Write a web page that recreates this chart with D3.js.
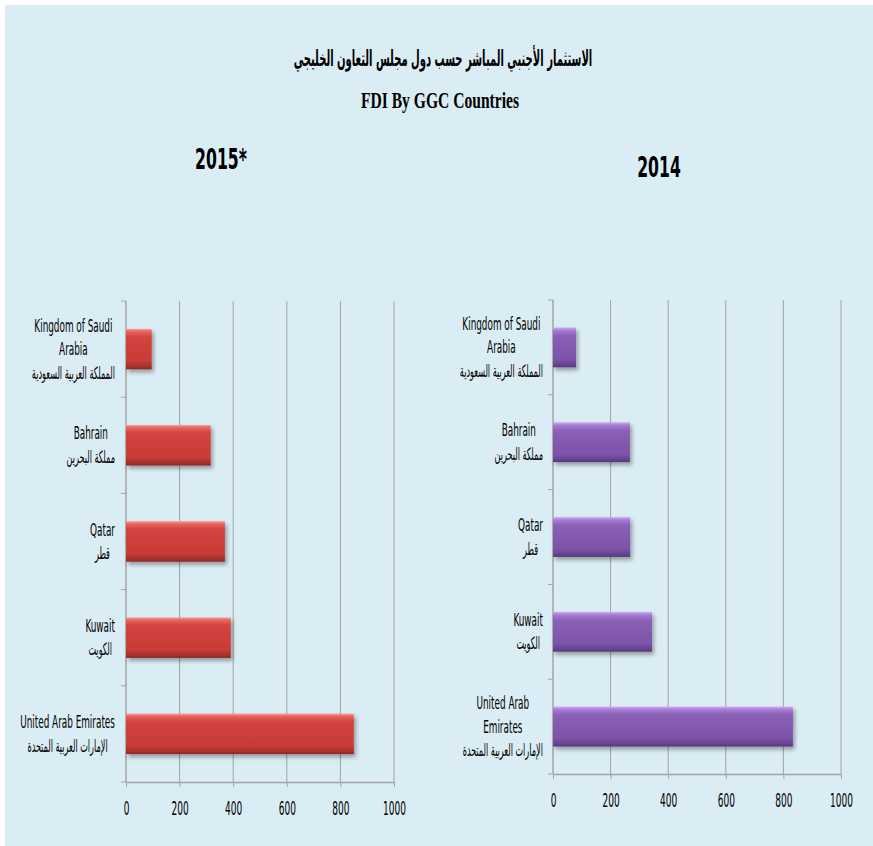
<!DOCTYPE html>
<html>
<head>
<meta charset="utf-8">
<script src="https://cdn.jsdelivr.net/npm/d3@7"></script>
<style>
  html, body { margin: 0; padding: 0; background: #ffffff; }
  svg { display: block; }
</style>
</head>
<body>
<svg id="chart" width="873" height="846"></svg>
<script>
// ---------------- DATA ----------------
const titleAr = "الاستثمار الأجنبي المباشر حسب دول مجلس التعاون الخليجي";
const titleEn = "FDI By GGC Countries";
const categories = ["Kingdom of Saudi Arabia", "Bahrain", "Qatar", "Kuwait", "United Arab Emirates"];
const categoriesAr = ["المملكة العربية السعودية", "مملكة البحرين", "قطر", "الكويت", "الإمارات العربية المتحدة"];
const labels2015 = [["Kingdom of Saudi", "Arabia"], ["Bahrain"], ["Qatar"], ["Kuwait"], ["United Arab Emirates"]];
const labels2014 = [["Kingdom of Saudi", "Arabia"], ["Bahrain"], ["Qatar"], ["Kuwait"], ["United Arab", "Emirates"]];
const values2015 = [96, 316, 369, 391, 850];
const values2014 = [80, 267, 268, 344, 833];
const tickValues = [0, 200, 400, 600, 800, 1000];
const panelTitles = ["2015*", "2014"];

// ---------------- SETUP ----------------
const svg = d3.select("#chart");
const defs = svg.append("defs");

svg.append("rect").attr("x", 5).attr("y", 5).attr("width", 868).attr("height", 841).attr("fill", "#dbedf4");

function grad(id, stops) {
  const g = defs.append("linearGradient").attr("id", id).attr("x1", 0).attr("y1", 0).attr("x2", 0).attr("y2", 1);
  stops.forEach(s => g.append("stop").attr("offset", s[0]).attr("stop-color", s[1]));
}
grad("gRed", [[0, "#f29a94"], [0.07, "#e7625d"], [0.2, "#d4443f"], [0.8, "#c73b37"], [0.93, "#a8302d"], [1, "#8a2725"]]);
grad("gPur", [[0, "#cfa9f5"], [0.08, "#a37bd2"], [0.22, "#8a5fb6"], [0.8, "#7c53a8"], [0.93, "#664491"], [1, "#553879"]]);
const f = defs.append("filter").attr("id", "shadow").attr("x", "-10%").attr("y", "-20%").attr("width", "130%").attr("height", "160%");
f.append("feDropShadow").attr("dx", 2).attr("dy", 3).attr("stdDeviation", 2).attr("flood-color", "#000").attr("flood-opacity", 0.35);

// horizontal condensing around the text's anchor x
function squeeze(sel, k) {
  sel.each(function () {
    const t = d3.select(this);
    const x = +t.attr("x") || 0;
    t.attr("transform", `translate(${x},0) scale(${k},1) translate(${-x},0)`);
    this.__w = this.getComputedTextLength() * k;
  });
}

const condFont = "'Liberation Sans Narrow', 'DejaVu Sans Condensed', 'DejaVu Sans', sans-serif";

// ---------------- TITLES ----------------
const t1 = svg.append("text").attr("x", 443).attr("y", 66).attr("text-anchor", "middle")
  .attr("font-family", "'DejaVu Sans', sans-serif").attr("font-weight", "bold").attr("font-size", 22)
  .attr("fill", "#000").text(titleAr);
const t2 = svg.append("text").attr("x", 440).attr("y", 108).attr("text-anchor", "middle")
  .attr("font-family", "'Liberation Serif', 'Times New Roman', serif").attr("font-weight", "bold").attr("font-size", 24)
  .attr("fill", "#000").text(titleEn);

// ---------------- PANELS ----------------
const panels = [
  { values: values2015, labels: labels2015, fill: "url(#gRed)", x0: 126, x1: 394, y0: 301, y1: 782, labelRight: 115, tickY: 808, title: panelTitles[0], tx: 221, ty: 169 },
  { values: values2014, labels: labels2014, fill: "url(#gPur)", x0: 553, x1: 841, y0: 300, y1: 774, labelRight: 543, tickY: 800, title: panelTitles[1], tx: 659, ty: 177 }
];

panels.forEach(p => {
  const g = svg.append("g");
  const x = d3.scaleLinear().domain([0, 1000]).range([p.x0, p.x1]);
  const y = d3.scaleBand().domain(categories).range([p.y0, p.y1]).paddingInner(0.58).paddingOuter(0.29);
  const yStep = (p.y1 - p.y0) / categories.length;

  // panel title
  const pt = g.append("text").attr("x", p.tx).attr("y", p.ty).attr("text-anchor", "middle")
    .attr("font-family", "'DejaVu Sans Condensed', 'DejaVu Sans', sans-serif").attr("font-weight", "bold")
    .attr("font-size", 29).attr("fill", "#000").text(p.title);

  // gridlines
  g.append("g").selectAll("line").data(tickValues.slice(1)).join("line")
    .attr("x1", d => x(d)).attr("x2", d => x(d)).attr("y1", p.y0).attr("y2", p.y1)
    .attr("stroke", "#a3a3a3").attr("stroke-width", 1);

  // bottom axis
  const xAxis = d3.axisBottom(x).tickValues(tickValues).tickSize(5).tickSizeOuter(0).tickFormat(d3.format("d"));
  const ax = g.append("g").attr("transform", `translate(0,${p.y1})`).call(xAxis);
  ax.select(".domain").attr("stroke", "#a3a3a3").attr("stroke-width", 1.5);
  ax.selectAll(".tick line").attr("stroke", "#a3a3a3");
  ax.selectAll(".tick text").attr("y", p.tickY - p.y1).attr("dy", "0.35em")
    .attr("font-family", condFont).attr("font-size", 20).attr("fill", "#000");

  // left axis with boundary ticks
  g.append("line").attr("x1", p.x0).attr("x2", p.x0).attr("y1", p.y0).attr("y2", p.y1)
    .attr("stroke", "#a3a3a3").attr("stroke-width", 1.5);
  g.append("g").selectAll("line").data(d3.range(categories.length + 1)).join("line")
    .attr("x1", p.x0 - 5).attr("x2", p.x0).attr("y1", i => p.y0 + i * yStep).attr("y2", i => p.y0 + i * yStep)
    .attr("stroke", "#a3a3a3");

  // bars
  g.append("g").selectAll("rect").data(p.values).join("rect")
    .attr("x", x(0)).attr("y", (d, i) => y(categories[i]))
    .attr("width", d => x(d) - x(0)).attr("height", y.bandwidth())
    .attr("fill", p.fill).attr("filter", "url(#shadow)");

  // category labels
  categories.forEach((c, i) => {
    const lines = p.labels[i].concat([categoriesAr[i]]);
    const n = lines.length;
    const cy = y(c) + y.bandwidth() / 2;
    const lg = g.append("g");
    const ts = lg.selectAll("text").data(lines).join("text")
      .attr("y", (d, j) => cy + (j - (n - 1) / 2) * 23.5)
      .attr("dy", "0.35em").attr("text-anchor", "middle")
      .attr("font-family", condFont).attr("font-size", 17)
      .attr("fill", "#000").text(d => d);
    let maxW = 0;
    ts.each(function (d, j) {
      const k = j < n - 1 ? 0.58 : 0.53;
      maxW = Math.max(maxW, this.getComputedTextLength() * k);
    });
    const cx = p.labelRight - maxW / 2;
    ts.attr("x", cx);
    ts.each(function (d, j) { squeeze(d3.select(this), j < n - 1 ? 0.58 : 0.53); });
  });

  squeeze(ax.selectAll(".tick text"), 0.5);
  squeeze(pt, 0.6);
});

squeeze(t1, 0.455);
squeeze(t2, 0.65);
</script>
</body>
</html>
